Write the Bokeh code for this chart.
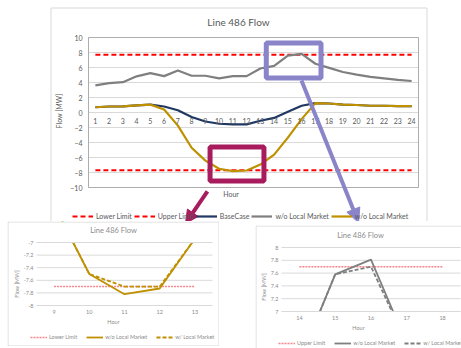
from bokeh.plotting import figure
from bokeh.models import (FixedTicker, LinearAxis, Legend, LegendItem, BoxAnnotation,
                          Arrow, NormalHead, Range1d, Spacer, Label)
from bokeh.layouts import column, row
from bokeh.embed import file_html
from bokeh.resources import INLINE

# ---------------- data ----------------
HOURS = [1, 2, 3, 4, 5, 6, 7, 8, 9, 10, 11, 12, 13, 14, 15, 16, 17, 18, 19, 20, 21, 22, 23, 24]
LOWER_LIMIT = [-7.7, -7.7, -7.7, -7.7, -7.7, -7.7, -7.7, -7.7, -7.7, -7.7, -7.7, -7.7,
               -7.7, -7.7, -7.7, -7.7, -7.7, -7.7, -7.7, -7.7, -7.7, -7.7, -7.7, -7.7]
UPPER_LIMIT = [7.7, 7.7, 7.7, 7.7, 7.7, 7.7, 7.7, 7.7, 7.7, 7.7, 7.7, 7.7,
               7.7, 7.7, 7.7, 7.7, 7.7, 7.7, 7.7, 7.7, 7.7, 7.7, 7.7, 7.7]
BASECASE = [0.70, 0.80, 0.82, 0.95, 1.05, 0.80, 0.30, -0.60, -1.20, -1.50, -1.58, -1.58,
            -1.10, -0.72, 0.10, 0.90, 1.25, 1.20, 1.05, 1.00, 0.90, 0.90, 0.85, 0.85]
WO_GREY = [3.62, 3.92, 4.04, 4.82, 5.25, 4.85, 5.60, 4.90, 4.90, 4.55, 4.85, 4.85,
           5.87, 6.22, 7.58, 7.81, 6.50, 5.95, 5.40, 5.05, 4.75, 4.55, 4.35, 4.20]
WO_GOLD = [0.70, 0.80, 0.82, 0.95, 1.05, 0.40, -1.75, -4.70, -6.41, -7.50, -7.82, -7.73,
           -6.94, -5.62, -3.35, -0.88, 1.25, 1.20, 1.05, 1.00, 0.90, 0.90, 0.85, 0.85]
MAIN_YTICKS = [-10, -8, -6, -4, -2, 0, 2, 4, 6, 8, 10]

LO_HOURS = [9, 10, 11, 12, 13]
LO_WO = [-6.41, -7.50, -7.82, -7.73, -6.94]
LO_W = [-6.41, -7.50, -7.70, -7.70, -6.94]
LO_LIMIT = [-7.7, -7.7, -7.7, -7.7, -7.7]
LO_YTICKS = [-8, -7.8, -7.6, -7.4, -7.2, -7]
LO_YLABELS = ["-8", "-7.8", "-7.6", "-7.4", "-7.2", "-7"]

HI_HOURS = [14, 15, 16, 17, 18]
HI_WO = [6.22, 7.58, 7.81, 6.50, 5.95]
HI_W = [6.22, 7.58, 7.70, 6.50, 5.95]
HI_LIMIT = [7.7, 7.7, 7.7, 7.7, 7.7]
HI_YTICKS = [7, 7.2, 7.4, 7.6, 7.8, 8]
HI_YLABELS = ["7", "7.2", "7.4", "7.6", "7.8", "8"]

TITLE = "Line 486 Flow"

# call-out windows on the main chart (hour / MW units)
HI_BOX = dict(left=13.43, right=17.41, bottom=4.6, top=9.27)
LO_BOX = dict(left=9.34, right=13.26, bottom=-9.13, top=-4.6)
HI_ARROW = dict(x_start=15.99, y_start=4.27, x_end=20.14, y_end=-14.67)
LO_ARROW = dict(x_start=9.15, y_start=-10.53, x_end=7.55, y_end=-14.8)

# ---------------- styles ----------------
FONT = "Lato"
TXT = "#595959"
TXT_L = "#8C8C8C"
GRID = "#D9D9D9"
RED = "#FF0000"
NAVY = "#203864"
GREY = "#7F7F7F"
GOLD = "#BF9000"
PINK = "#F4858A"
PURPLE = "#8A85C9"
MAROON = "#A81C5E"


class Mapper:
    """Linear pixel <-> data helper used only for layout of the canvases."""
    def __init__(self, W, H, area_x_px, area_x, area_y_px, area_y):
        self.kx = (area_x[1] - area_x[0]) / (area_x_px[1] - area_x_px[0])
        self.ky = (area_y[1] - area_y[0]) / (area_y_px[1] - area_y_px[0])
        self.ax0, self.dx0 = area_x_px[0], area_x[0]
        self.ay0, self.dy0 = area_y_px[0], area_y[0]
        self.W, self.H = W, H

    def x(self, px):
        return self.dx0 + (px - self.ax0) * self.kx

    def y(self, py):
        return self.dy0 + (py - self.ay0) * self.ky

    def ranges(self):
        return (Range1d(self.x(0), self.x(self.W)), Range1d(self.y(self.H), self.y(0)))


def style_axis(ax, size, color, label_size):
    ax.axis_line_color = None
    ax.major_tick_line_color = None
    ax.minor_tick_line_color = None
    ax.major_tick_out = 0
    ax.major_tick_in = 0
    ax.major_label_text_font = FONT
    ax.major_label_text_font_size = size
    ax.major_label_text_color = color
    ax.axis_label_text_font = FONT
    ax.axis_label_text_font_size = label_size
    ax.axis_label_text_font_style = "normal"
    ax.axis_label_text_color = color


# ---------------- main chart ----------------
MW, MH = 461, 221
m = Mapper(MW, MH, (88, 418), (0.5, 24.5), (37, 187), (10, -10))
xr, yr = m.ranges()
p = figure(width=MW, height=MH, min_border=0, x_range=xr, y_range=yr,
           x_axis_type=None, y_axis_type=None, output_backend="svg",
           toolbar_location=None)
p.outline_line_color = None
p.xgrid.grid_line_color = None
p.ygrid.grid_line_color = None

ya = LinearAxis(fixed_location=0.5, ticker=FixedTicker(ticks=MAIN_YTICKS),
                axis_label="Flow [MW]")
style_axis(ya, "7px", TXT, "7px")
ya.major_label_standoff = 6
ya.axis_label_standoff = 4
p.add_layout(ya, "left")

xa = LinearAxis(fixed_location=0, ticker=FixedTicker(ticks=HOURS))
style_axis(xa, "7px", TXT, "7px")
xa.major_label_standoff = 5
p.add_layout(xa, "below")

xh = LinearAxis(fixed_location=-10, ticker=FixedTicker(ticks=[]), axis_label="Hour")
style_axis(xh, "7px", TXT, "7px")
xh.major_label_standoff = 0
xh.axis_label_standoff = 2
p.add_layout(xh, "below")

p.segment(x0=0.5, x1=24.5, y0=MAIN_YTICKS, y1=MAIN_YTICKS, line_color=GRID, line_width=1)

r_lo = p.line(HOURS, LOWER_LIMIT, line_color=RED, line_width=2.2, line_dash="5 3")
r_up = p.line(HOURS, UPPER_LIMIT, line_color=RED, line_width=2.2, line_dash="5 3")
r_base = p.line(HOURS, BASECASE, line_color=NAVY, line_width=2.2)
r_grey = p.line(HOURS, WO_GREY, line_color=GREY, line_width=2.2)
r_gold = p.line(HOURS, WO_GOLD, line_color=GOLD, line_width=2.2)

# plot-area border and chart-area border
p.add_layout(BoxAnnotation(left=0.5, right=24.5, bottom=-10, top=10, fill_alpha=0,
                           line_color="#ADADAD", line_alpha=1, line_width=1))
p.add_layout(BoxAnnotation(left=m.x(50.5), right=m.x(426.5), top=m.y(7.5), bottom=m.y(230),
                           fill_alpha=0, line_color=GRID, line_alpha=1, line_width=1))

p.add_layout(Label(x=m.x(238), y=m.y(21), text=TITLE, text_align="center",
                   text_baseline="middle", text_font=FONT, text_font_size="10px",
                   text_color=TXT))

legend = Legend(items=[LegendItem(label="Lower Limit", renderers=[r_lo]),
                       LegendItem(label="Upper Limit", renderers=[r_up]),
                       LegendItem(label="BaseCase", renderers=[r_base]),
                       LegendItem(label="w/o Local Market", renderers=[r_grey]),
                       LegendItem(label="w/o Local Market", renderers=[r_gold])],
                location=(72, 0), orientation="horizontal",
                glyph_width=21, glyph_height=10, label_standoff=3, spacing=2,
                padding=0, margin=0, border_line_color=None, background_fill_alpha=0,
                label_text_font=FONT, label_text_font_size="7px", label_text_color=TXT,
                label_height=10)
p.add_layout(legend)

p.add_layout(BoxAnnotation(**HI_BOX, fill_alpha=0, line_color=PURPLE, line_alpha=1,
                           line_width=5))
p.add_layout(BoxAnnotation(**LO_BOX, fill_alpha=0, line_color=MAROON, line_alpha=1,
                           line_width=5))
p.add_layout(Arrow(end=NormalHead(size=14, fill_color=PURPLE, line_color=PURPLE),
                   line_color=PURPLE, line_width=4, **HI_ARROW))
p.add_layout(Arrow(end=NormalHead(size=13, fill_color=MAROON, line_color=MAROON),
                   line_color=MAROON, line_width=4, **LO_ARROW))


# ---------------- insets ----------------
def make_inset(W, H, mp, hours, wo, w, limit, yticks, ylabels, limit_label, color,
               cover_above, edge, title_px, leg_loc, border):
    xr, yr = mp.ranges()
    area_x0, area_x1 = mp.x(mp.ax0), mp.x(mp.ax0 + (hours[-1] - hours[0] + 1) / mp.kx)
    q = figure(width=W, height=H, min_border=0, x_range=xr, y_range=yr,
               x_axis_type=None, y_axis_type=None, output_backend="svg",
               toolbar_location=None)
    q.outline_line_color = None
    q.xgrid.grid_line_color = None
    q.ygrid.grid_line_color = None

    a = LinearAxis(fixed_location=area_x0, ticker=FixedTicker(ticks=yticks),
                   axis_label="Flow [MW]")
    a.major_label_overrides = dict(zip(yticks, ylabels))
    style_axis(a, "5.5px", TXT_L, "5.5px")
    a.major_label_standoff = 3
    a.axis_label_standoff = 1
    q.add_layout(a, "left")
    b = LinearAxis(fixed_location=min(yticks), ticker=FixedTicker(ticks=hours),
                   axis_label="Hour")
    style_axis(b, "5.5px", TXT_L, "5.5px")
    b.major_label_standoff = 4
    b.axis_label_standoff = 2
    q.add_layout(b, "below")

    q.segment(x0=area_x0, x1=area_x1, y0=yticks, y1=yticks, line_color=GRID, line_width=1)
    r1 = q.line(hours, limit, line_color=PINK, line_width=1.5, line_dash="2 1")
    r2 = q.line(hours, wo, line_color=color, line_width=1.8)
    r3 = q.line(hours, w, line_color=color, line_width=1.8, line_dash="4 2")
    # the chart's plot area clips its series at the zoom window edge
    if cover_above:
        q.quad(left=xr.start, right=xr.end, bottom=edge, top=yr.end, fill_color="white",
               line_color=None)
    else:
        q.quad(left=xr.start, right=xr.end, bottom=yr.start, top=edge, fill_color="white",
               line_color=None)
    q.segment(x0=area_x0, x1=area_x1, y0=edge, y1=edge, line_color=GRID, line_width=1)

    q.add_layout(Label(x=mp.x(title_px[0]), y=mp.y(title_px[1]), text=TITLE,
                       text_align="center", text_baseline="middle", text_font=FONT,
                       text_font_size="7.5px", text_color=TXT_L))
    lg = Legend(items=[LegendItem(label=limit_label, renderers=[r1]),
                       LegendItem(label="w/o Local Market", renderers=[r2]),
                       LegendItem(label="w/ Local Market", renderers=[r3])],
                location=leg_loc, orientation="horizontal",
                glyph_width=17, glyph_height=8, label_standoff=2, spacing=9,
                padding=0, margin=0, border_line_color=None, background_fill_alpha=0,
                label_text_font=FONT, label_text_font_size="5.5px", label_text_color=TXT_L,
                label_height=8)
    q.add_layout(lg)
    q.add_layout(BoxAnnotation(left=mp.x(border[0]), right=mp.x(border[1]),
                               top=mp.y(border[2]), bottom=mp.y(border[3]),
                               fill_alpha=0, line_color=GRID, line_alpha=1, line_width=1))
    return q


LW, LH = 212, 125
lm = Mapper(LW, LH, (29, 205), (8.5, 13.5), (21, 84), (-7, -8))
left = make_inset(LW, LH, lm, LO_HOURS, LO_WO, LO_W, LO_LIMIT, LO_YTICKS, LO_YLABELS,
                  "Lower Limit", GOLD, True, -7, (106, 9), (23, 5),
                  (0.5, 211.5, 0.5, 124.5))

RW, RH = 206, 123
rm = Mapper(RW, RH, (26, 205), (13.5, 18.5), (22, 86), (8, 7))
right = make_inset(RW, RH, rm, HI_HOURS, HI_WO, HI_W, HI_LIMIT, HI_YTICKS, HI_YLABELS,
                   "Upper Limit", GREY, False, 7, (105, 10), (23, 1),
                   (0.5, 220, 0.5, 140))

layout = column(p, row(Spacer(width=7, height=125), left, Spacer(width=36, height=125),
                       column(Spacer(width=206, height=4), right)))

open("out.html", "w").write(file_html(layout, INLINE))
